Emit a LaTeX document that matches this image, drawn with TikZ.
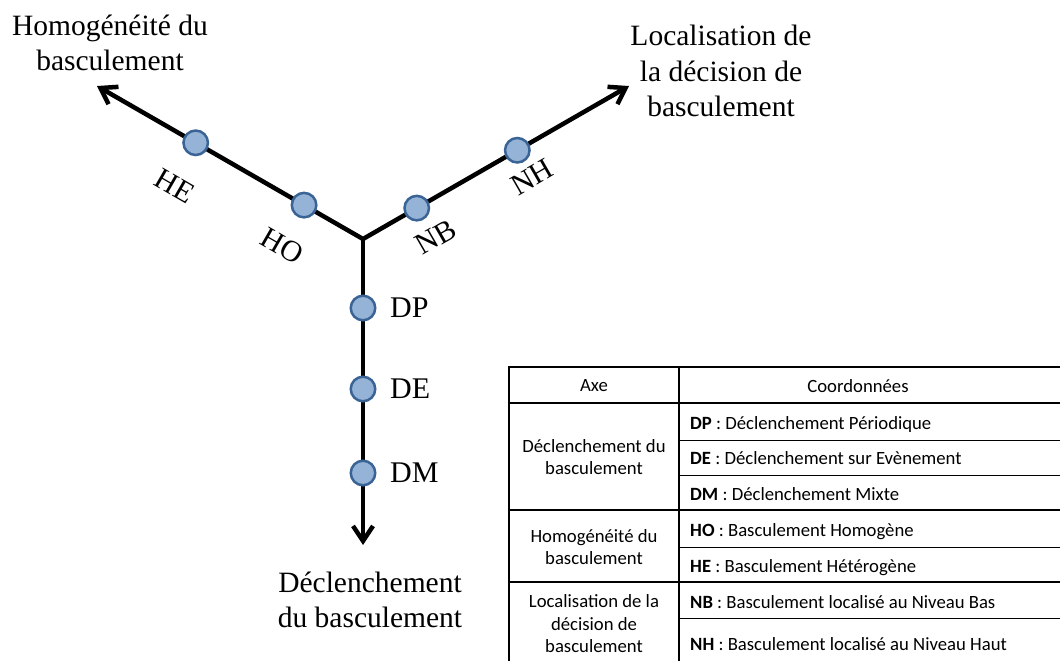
\documentclass[tikz,border=0pt]{standalone}
\usepackage{fontspec}
\setmainfont{Liberation Serif}
\newfontfamily\tabfont{Carlito}
\usetikzlibrary{arrows.meta,calc}
\definecolor{dotfill}{HTML}{95B3D7}
\definecolor{dotdraw}{HTML}{3B6496}
\begin{document}
\begin{tikzpicture}[x=1pt,y=-1pt,
  axisline/.style={line width=4.5pt, line join=miter},
  barbtip/.tip={Straight Barb[length=15pt,width=20pt]},
  dot/.style={circle, fill=dotfill, draw=dotdraw, line width=2.5pt, minimum size=24.5pt, inner sep=0pt},
  lbl/.style={font=\fontsize{30}{36}\selectfont, inner sep=0pt},
  rlbl/.style={font=\fontsize{30}{34}\selectfont, inner sep=0pt},
  axtitle/.style={align=center, font=\fontsize{29.5}{35.5}\selectfont, inner sep=0pt},
  tab/.style={font=\tabfont\fontsize{18.7}{22.5}\selectfont, inner sep=0pt},
  tabc/.style={tab, align=center},
  thickrule/.style={line width=2pt},
  thinrule/.style={line width=1pt}]
\useasboundingbox (0,0) rectangle (1060,661);

% axes
\coordinate (o) at (363,239);
\coordinate (hTip) at (97,86);
\coordinate (nTip) at (629,86);
\coordinate (dTip) at (363,545);
\draw[axisline, {barbtip}-{barbtip}] (hTip) -- (o) -- (nTip);
\draw[axisline, -{barbtip}] (o) -- (dTip);

% points
\node[dot] (HO) at ($(o)!68pt!(hTip)$) {};
\node[dot] (HE) at ($(o)!193pt!(hTip)$) {};
\node[dot] (NB) at ($(o)!62pt!(nTip)$) {};
\node[dot] (NH) at ($(o)!178pt!(nTip)$) {};
\node[dot] (DP) at (363,308) {};
\node[dot] (DE) at (363,389) {};
\node[dot] (DM) at (363,473) {};

% point labels
\node[lbl, anchor=west] (lDP) at (390,308) {DP};
\node[lbl, anchor=west] (lDE) at (390,389) {DE};
\node[lbl, anchor=west] (lDM) at (390,473) {DM};
\node[rlbl, rotate=-30] (lHE) at (175,186) {HE};
\node[rlbl, rotate=-30] (lHO) at (282,246) {HO};
\node[rlbl, rotate=30] (lNB) at (436,237) {NB};
\node[rlbl, rotate=30] (lNH) at (532,177) {NH};

% axis titles
\node[axtitle] (tH) at (110,43) {Homogénéité du\\basculement};
\node[axtitle] (tN) at (721,71) {Localisation de\\la décision de\\basculement};
\node[axtitle] (tD) at (370,600) {Déclenchement\\du basculement};

% table rules
\draw[thickrule] (509,367) -- (1060,367);
\draw[thickrule] (509,403) -- (1060,403);
\draw[thinrule] (679,440) -- (1060,440);
\draw[thinrule] (679,475) -- (1060,475);
\draw[thickrule] (509,510) -- (1060,510);
\draw[thinrule] (679,547) -- (1060,547);
\draw[thickrule] (509,582) -- (1060,582);
\draw[thinrule] (679,618) -- (1060,618);
\draw[thickrule] (509,366) -- (509,662);
\draw[thickrule] (679,366) -- (679,662);

% table texts
\node[tab] (hAxe) at (594,386) {Axe};
\node[tab] (hCoord) at (858,386) {Coordonnées};
\node[tabc] (gD) at (594,457) {Déclenchement du\\basculement};
\node[tabc] (gH) at (594,547) {Homogénéité du\\basculement};
\node[tabc] (gN) at (594,624) {Localisation de la\\décision de\\basculement};
\node[tab, anchor=base west] (cDP) at (690,429) {\textbf{DP} : Déclenchement Périodique};
\node[tab, anchor=base west] (cDE) at (690,464) {\textbf{DE} : Déclenchement sur Evènement};
\node[tab, anchor=base west] (cDM) at (690,500) {\textbf{DM} : Déclenchement Mixte};
\node[tab, anchor=base west] (cHO) at (690,536) {\textbf{HO} : Basculement Homogène};
\node[tab, anchor=base west] (cHE) at (690,572) {\textbf{HE} : Basculement Hétérogène};
\node[tab, anchor=base west] (cNB) at (690,608) {\textbf{NB} : Basculement localisé au Niveau Bas};
\node[tab, anchor=base west] (cNH) at (690,650) {\textbf{NH} : Basculement localisé au Niveau Haut};
\end{tikzpicture}
\end{document}
